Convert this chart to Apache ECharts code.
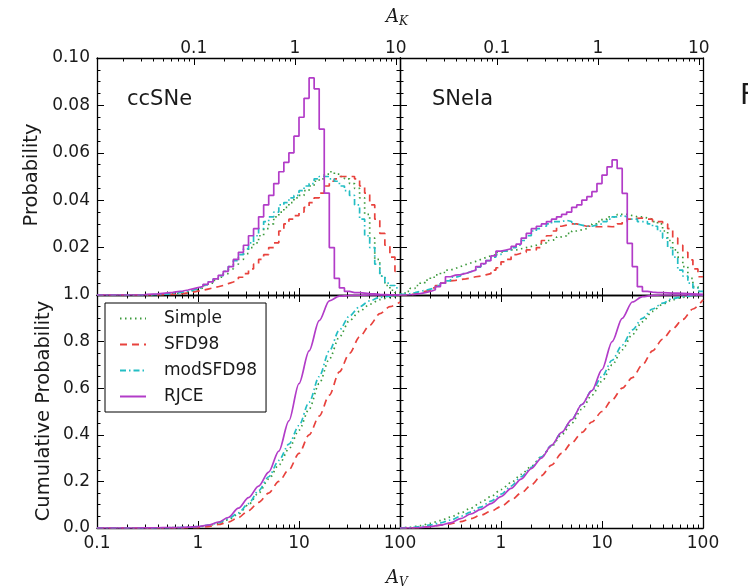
<!DOCTYPE html>
<html>
<head>
<meta charset="utf-8">
<title>A_V probability distributions</title>
<script src="https://cdn.jsdelivr.net/npm/echarts@6.0.0/dist/echarts.min.js"></script>
<style>
  html, body { margin: 0; padding: 0; background: #fff; }
  #chart { width: 748px; height: 587px; }
</style>
</head>
<body>
<div id="chart"></div>
<script>
// ---- data -------------------------------------------------------------
// histogram bins: 0.05 dex wide in A_V, first bin starts at A_V = 0.1
const BIN_DEX = 0.05;
const SERIES_NAMES = ['Simple', 'SFD98', 'modSFD98', 'RJCE'];
const AK_PER_AV = 0.11;

// ccSNe histograms (probability per bin)
const ccSimple = [
  0, 0, 0, 0, 0, 0, 0, 0, 0, 0,
  0.0001, 0.0002, 0.0003, 0.0004, 0.0005, 0.0007, 0.0010, 0.0013, 0.0018, 0.0023,
  0.0030, 0.0040, 0.0050, 0.0062, 0.0075, 0.009, 0.011, 0.013, 0.015, 0.0175,
  0.020, 0.022, 0.025, 0.028, 0.030, 0.033, 0.035, 0.037, 0.039, 0.041,
  0.042, 0.044, 0.046, 0.048, 0.049, 0.051, 0.052, 0.051, 0.050, 0.049,
  0.047, 0.045, 0.041, 0.034, 0.024, 0.015, 0.008, 0.004, 0.002, 0.001
];
const ccSFD98 = [
  0, 0, 0, 0, 0, 0, 0, 0, 0, 0,
  0, 0, 0.0001, 0.0002, 0.0003, 0.0004, 0.0006, 0.0009, 0.0012, 0.0016,
  0.002, 0.0025, 0.003, 0.0035, 0.004, 0.0048, 0.0055, 0.0063, 0.0075, 0.009,
  0.011, 0.013, 0.015, 0.017, 0.020, 0.022, 0.027, 0.030, 0.032, 0.0335,
  0.035, 0.037, 0.039, 0.041, 0.043, 0.046, 0.048, 0.049, 0.050, 0.050,
  0.050, 0.049, 0.046, 0.043, 0.038, 0.032, 0.026, 0.021, 0.016, 0.010
];
const ccModSFD98 = [
  0, 0, 0, 0, 0, 0, 0, 0, 0, 0,
  0.0001, 0.0002, 0.0003, 0.0004, 0.0006, 0.0009, 0.0012, 0.0016, 0.0020, 0.0026,
  0.0033, 0.0043, 0.0055, 0.0068, 0.0082, 0.010, 0.012, 0.0145, 0.017, 0.0195,
  0.022, 0.025, 0.028, 0.031, 0.033, 0.035, 0.038, 0.039, 0.041, 0.042,
  0.044, 0.046, 0.047, 0.049, 0.050, 0.050, 0.049, 0.048, 0.046, 0.044,
  0.042, 0.038, 0.032, 0.025, 0.020, 0.013, 0.008, 0.005, 0.004, 0.003
];
const ccRJCE = [
  0, 0, 0, 0, 0, 0, 0, 0, 0, 0.0003,
  0.0004, 0.0005, 0.0007, 0.0009, 0.0011, 0.0014, 0.0017, 0.0021, 0.0026, 0.0031,
  0.0036, 0.0045, 0.0055, 0.0068, 0.0083, 0.010, 0.012, 0.015, 0.018, 0.021,
  0.025, 0.028, 0.033, 0.038, 0.042, 0.047, 0.052, 0.056, 0.060, 0.067,
  0.075, 0.083, 0.0916, 0.087, 0.070, 0.043, 0.020, 0.007, 0.003, 0.0015,
  0.001, 0.001, 0.0008, 0.0006, 0.0005, 0.0003, 0.0002, 0.0001, 0, 0
];

// SNeIa histograms
const iaSimple = [
  0.0005, 0.0015, 0.0028, 0.0040, 0.0052, 0.0063, 0.0075, 0.0085, 0.0095, 0.0105,
  0.0112, 0.012, 0.0128, 0.0135, 0.0142, 0.015, 0.0158, 0.0165, 0.017, 0.018,
  0.0185, 0.019, 0.019, 0.0195, 0.020, 0.0205, 0.021, 0.0215, 0.022, 0.023,
  0.0235, 0.0245, 0.025, 0.026, 0.027, 0.0275, 0.028, 0.029, 0.030, 0.031,
  0.032, 0.033, 0.033, 0.034, 0.034, 0.0335, 0.033, 0.033, 0.0325, 0.032,
  0.031, 0.030, 0.027, 0.023, 0.019, 0.016, 0.012, 0.007, 0.0035, 0.0015
];
const iaSFD98 = [
  0, 0, 0.0005, 0.001, 0.0015, 0.002, 0.003, 0.004, 0.005, 0.006,
  0.0062, 0.0065, 0.0068, 0.0072, 0.0077, 0.008, 0.0085, 0.009, 0.0105, 0.0115,
  0.014, 0.015, 0.017, 0.0176, 0.018, 0.019, 0.019, 0.020, 0.023, 0.025,
  0.027, 0.029, 0.0295, 0.030, 0.030, 0.0295, 0.029, 0.029, 0.0288, 0.0288,
  0.029, 0.0288, 0.029, 0.030, 0.031, 0.032, 0.0323, 0.0325, 0.032, 0.032,
  0.031, 0.031, 0.030, 0.028, 0.024, 0.021, 0.018, 0.0148, 0.011, 0.0077
];
const iaModSFD98 = [
  0.0003, 0.0006, 0.001, 0.0015, 0.002, 0.0025, 0.003, 0.004, 0.005, 0.006,
  0.0075, 0.008, 0.009, 0.0098, 0.0105, 0.0118, 0.013, 0.0145, 0.016, 0.017,
  0.0185, 0.019, 0.020, 0.021, 0.023, 0.025, 0.027, 0.028, 0.029, 0.030,
  0.031, 0.031, 0.0315, 0.031, 0.030, 0.0295, 0.029, 0.029, 0.0295, 0.030,
  0.031, 0.032, 0.033, 0.0335, 0.033, 0.032, 0.032, 0.031, 0.031, 0.030,
  0.029, 0.027, 0.024, 0.020, 0.016, 0.0105, 0.008, 0.005, 0.003, 0.0015
];
const iaRJCE = [
  0, 0.0001, 0.0003, 0.0006, 0.0010, 0.0015, 0.0022, 0.0035, 0.0050, 0.0077,
  0.0084, 0.0086, 0.0091, 0.0098, 0.0105, 0.012, 0.0132, 0.0145, 0.0165, 0.0185,
  0.019, 0.0195, 0.0205, 0.0215, 0.024, 0.026, 0.028, 0.029, 0.030, 0.031,
  0.032, 0.033, 0.034, 0.035, 0.037, 0.038, 0.040, 0.0415, 0.0436, 0.047,
  0.0506, 0.0541, 0.057, 0.0534, 0.0429, 0.0218, 0.012, 0.0035, 0.0015, 0.0012,
  0.001, 0.001, 0.0009, 0.0008, 0.0008, 0.0007, 0.0006, 0.0005, 0.0004, 0.0003
];

// cumulative curves, sampled at log10(A_V) = -1.0, -0.9, ... 2.0
const cumLog = [
  -1.0, -0.9, -0.8, -0.7, -0.6, -0.5, -0.4, -0.3, -0.2, -0.1,
  0.0, 0.1, 0.2, 0.3, 0.4, 0.5, 0.6, 0.7, 0.8, 0.9,
  1.0, 1.1, 1.2, 1.3, 1.4, 1.5, 1.6, 1.7, 1.8, 1.9, 2.0
];
const ccSimpleCum = [
  0, 0, 0, 0, 0, 0, 0.0005, 0.001, 0.002, 0.003,
  0.005, 0.01, 0.02, 0.035, 0.06, 0.10, 0.15, 0.21, 0.27, 0.34,
  0.42, 0.51, 0.62, 0.725, 0.82, 0.89, 0.93, 0.96, 0.98, 0.99, 1.0
];
const ccSFD98Cum = [
  0, 0, 0, 0, 0, 0, 0, 0, 0.0005, 0.001,
  0.002, 0.006, 0.015, 0.025, 0.045, 0.075, 0.11, 0.15, 0.20, 0.25,
  0.32, 0.40, 0.48, 0.57, 0.67, 0.75, 0.82, 0.87, 0.92, 0.95, 0.97
];
const ccModSFD98Cum = [
  0, 0, 0, 0, 0, 0, 0.0005, 0.001, 0.002, 0.0035,
  0.006, 0.012, 0.022, 0.04, 0.065, 0.105, 0.16, 0.22, 0.29, 0.36,
  0.44, 0.54, 0.65, 0.76, 0.85, 0.91, 0.95, 0.975, 0.99, 0.995, 1.0
];
const ccRJCECum = [
  0, 0, 0, 0, 0, 0.0005, 0.001, 0.0015, 0.002, 0.004,
  0.006, 0.012, 0.025, 0.045, 0.085, 0.13, 0.18, 0.24, 0.33, 0.46,
  0.62, 0.76, 0.89, 0.975, 0.995, 0.998, 0.999, 1.0, 1.0, 1.0, 1.0
];
const iaSimpleCum = [
  0, 0.003, 0.01, 0.02, 0.032, 0.047, 0.065, 0.085, 0.11, 0.135,
  0.165, 0.195, 0.23, 0.265, 0.305, 0.35, 0.40, 0.45, 0.51, 0.57,
  0.63, 0.70, 0.765, 0.83, 0.885, 0.93, 0.96, 0.98, 0.99, 0.997, 1.0
];
const iaSFD98Cum = [
  0, 0, 0.002, 0.006, 0.012, 0.018, 0.027, 0.04, 0.055, 0.072,
  0.092, 0.12, 0.15, 0.185, 0.225, 0.27, 0.32, 0.365, 0.41, 0.455,
  0.50, 0.55, 0.60, 0.645, 0.70, 0.76, 0.81, 0.855, 0.895, 0.94, 0.98
];
const iaModSFD98Cum = [
  0, 0.002, 0.006, 0.013, 0.022, 0.034, 0.05, 0.068, 0.09, 0.115,
  0.145, 0.18, 0.22, 0.26, 0.305, 0.355, 0.41, 0.465, 0.53, 0.59,
  0.65, 0.72, 0.785, 0.85, 0.90, 0.94, 0.965, 0.985, 0.993, 0.998, 1.0
];
const iaRJCECum = [
  0, 0, 0.002, 0.006, 0.012, 0.022, 0.04, 0.06, 0.08, 0.105,
  0.135, 0.17, 0.21, 0.255, 0.30, 0.355, 0.41, 0.465, 0.53, 0.59,
  0.68, 0.80, 0.90, 0.97, 0.993, 0.998, 1.0, 1.0, 1.0, 1.0, 1.0
];

// axis ticks
const AV_MAJOR = [0.1, 1, 10, 100];
const AK_MAJOR = [0.1, 1, 10];

// ---- chart ------------------------------------------------------------
const chart = echarts.init(document.getElementById('chart'));
const FONT = 'DejaVu Sans';
const INK = '#1a1a1a';
const AXIS_LINE = { color: '#000', width: 1.3 };
const TICK_LINE = { color: '#000', width: 1 };

const STYLES = {
  Simple:   { color: '#3c9a3c', type: [1.5, 3.5] },
  SFD98:    { color: '#e8423d', type: [7, 5] },
  modSFD98: { color: '#24bec4', type: [6, 3, 1.5, 3] },
  RJCE:     { color: '#b23cc8', type: 'solid' }
};

function logMinors(decades) {
  const out = [];
  decades.forEach(function (d) {
    for (let m = 2; m <= 9; m++) out.push(+(d * m).toPrecision(3));
  });
  return out;
}
const AV_MINOR = logMinors([0.1, 1, 10]);
const AK_MINOR = logMinors([0.01, 0.1, 1, 10]);

const grids = [
  { left: 97, top: 58, width: 303, height: 237 },
  { left: 400, top: 58, width: 303, height: 237 },
  { left: 97, top: 295, width: 303, height: 233 },
  { left: 400, top: 295, width: 303, height: 233 }
].map(function (g) { return Object.assign({ outerBoundsMode: 'none', containLabel: false }, g); });

const xAxes = [];
const yAxes = [];

// a log axis drawn as two: one carries line, major ticks and labels, the other the minor ticks
function logAxis(grid, pos, min, max, major, minor, labels, margin) {
  const base = {
    type: 'log', logBase: 10, gridIndex: grid, position: pos, min: min, max: max,
    splitLine: { show: false }, minorTick: { show: false }, minorSplitLine: { show: false }
  };
  xAxes.push(Object.assign({}, base, {
    axisLine: { show: true, onZero: false, lineStyle: AXIS_LINE },
    axisTick: { show: true, inside: true, length: 7, customValues: major, lineStyle: TICK_LINE },
    axisLabel: labels
      ? { show: true, customValues: labels, margin: margin, fontSize: 17, fontFamily: FONT, color: INK }
      : { show: false }
  }));
  const main = xAxes.length - 1;
  xAxes.push(Object.assign({}, base, {
    axisLine: { show: false, onZero: false },
    axisTick: { show: true, inside: true, length: 3.5, customValues: minor, lineStyle: TICK_LINE },
    axisLabel: { show: false }
  }));
  return main;
}

function valueAxis(grid, pos, max, step, digits, labelled, hideZero) {
  yAxes.push({
    type: 'value', gridIndex: grid, position: pos, min: 0, max: max, interval: step,
    axisLine: { show: true, onZero: false, lineStyle: AXIS_LINE },
    axisTick: { show: true, inside: true, length: 7, lineStyle: TICK_LINE },
    minorTick: { show: true, splitNumber: 4, length: 3.5, lineStyle: TICK_LINE },
    splitLine: { show: false },
    axisLabel: labelled ? {
      show: true, margin: 7, fontSize: 17, fontFamily: FONT, color: INK,
      formatter: function (v) { return (hideZero && v === 0) ? '' : v.toFixed(digits); }
    } : { show: false }
  });
  return yAxes.length - 1;
}

const panels = [
  { grid: 0, kind: 'hist', data: [ccSimple, ccSFD98, ccModSFD98, ccRJCE] },
  { grid: 1, kind: 'hist', data: [iaSimple, iaSFD98, iaModSFD98, iaRJCE] },
  { grid: 2, kind: 'cum', data: [ccSimpleCum, ccSFD98Cum, ccModSFD98Cum, ccRJCECum], labels: AV_MAJOR },
  { grid: 3, kind: 'cum', data: [iaSimpleCum, iaSFD98Cum, iaModSFD98Cum, iaRJCECum], labels: [1, 10, 100] }
];

const series = [];
panels.forEach(function (p) {
  const left = p.grid % 2 === 0;
  let xi, yi;
  if (p.kind === 'hist') {
    xi = logAxis(p.grid, 'bottom', 0.1, 100, AV_MAJOR, AV_MINOR, null, 0);
    logAxis(p.grid, 'top', 0.1 * AK_PER_AV, 100 * AK_PER_AV, AK_MAJOR, AK_MINOR, AK_MAJOR, 1);
    yi = valueAxis(p.grid, 'left', 0.1, 0.02, 2, left, true);
    valueAxis(p.grid, 'right', 0.1, 0.02, 2, false, false);
  } else {
    xi = logAxis(p.grid, 'bottom', 0.1, 100, AV_MAJOR, AV_MINOR, p.labels, 7);
    logAxis(p.grid, 'top', 0.1, 100, AV_MAJOR, AV_MINOR, null, 0);
    valueAxis(p.grid, 'right', 1, 0.2, 1, false, false);
    yi = valueAxis(p.grid, 'left', 1, 0.2, 1, left, false);
  }
  p.data.forEach(function (vals, k) {
    const name = SERIES_NAMES[k];
    const st = STYLES[name];
    let pts;
    if (p.kind === 'hist') {
      pts = vals.map(function (v, i) { return [Math.pow(10, -1 + BIN_DEX * i), v]; });
      pts.push([100, vals[vals.length - 1]]);
    } else {
      pts = vals.map(function (v, i) { return [Math.pow(10, cumLog[i]), v]; });
    }
    series.push({
      name: name, type: 'line', xAxisIndex: xi, yAxisIndex: yi,
      data: pts, symbol: 'none', showSymbol: false,
      step: p.kind === 'hist' ? 'end' : false,
      smooth: p.kind === 'cum' ? 0.3 : false,
      smoothMonotone: 'x',
      lineStyle: { color: st.color, width: 1.7, type: st.type },
      itemStyle: { color: st.color },
      emphasis: { disabled: true },
      z: 2 + k
    });
  });
});

function label(text, x, y, size, extra) {
  return {
    type: 'text', x: x, y: y, silent: true, z: 50,
    style: Object.assign({ text: text, fontSize: size, fontFamily: FONT, fill: INK,
      align: 'left', verticalAlign: 'middle' }, extra || {})
  };
}

const graphics = [
  label('ccSNe', 127, 100, 21),
  label('SNeIa', 432, 100, 21),
  Object.assign(label('Probability', 32, 175, 19.5, { align: 'center' }), { rotation: Math.PI / 2 }),
  Object.assign(label('Cumulative Probability', 44, 411, 19.5, { align: 'center' }), { rotation: Math.PI / 2 }),
  label('A', 386, 17, 18, { fontFamily: 'DejaVu Serif', fontStyle: 'italic' }),
  label('K', 399, 22, 12, { fontFamily: 'DejaVu Serif', fontStyle: 'italic' }),
  label('A', 386, 578, 18, { fontFamily: 'DejaVu Serif', fontStyle: 'italic' }),
  label('V', 399, 583, 12, { fontFamily: 'DejaVu Serif', fontStyle: 'italic' }),
  label('F', 740, 97, 28)
];

chart.setOption({
  animation: false,
  backgroundColor: '#fff',
  grid: grids,
  xAxis: xAxes,
  yAxis: yAxes,
  legend: {
    data: SERIES_NAMES,
    orient: 'vertical',
    left: 105, top: 303,
    padding: [7, 9, 7, 14],
    itemWidth: 26, itemHeight: 14, itemGap: 9,
    borderColor: '#000', borderWidth: 1, backgroundColor: '#fff',
    selectedMode: false,
    itemStyle: { opacity: 0 },
    textStyle: { fontSize: 17, fontFamily: FONT, color: INK, padding: [0, 0, 0, 13] },
    z: 20
  },
  graphic: graphics,
  series: series
});
</script>
</body>
</html>
